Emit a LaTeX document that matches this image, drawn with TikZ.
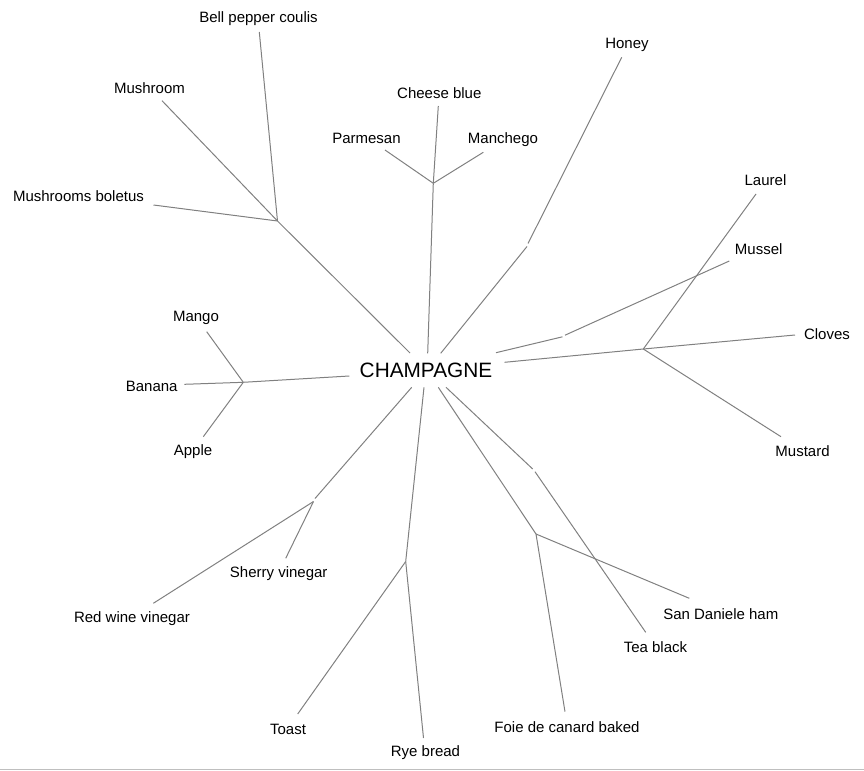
\documentclass[tikz,border=0pt]{standalone}
\usepackage{fontspec}
\setmainfont{Liberation Sans}
\usepackage{tikz}

\begin{document}
\begin{tikzpicture}[x=0.75pt,y=-0.75pt,
	edge/.style={draw=black!50,line width=0.75pt},
	leaf/.style={inner sep=0pt,yshift=-1.1pt,font=\fontsize{11.25}{13}\selectfont},
	root/.style={inner sep=0pt,yshift=-0.5pt,font=\fontsize{15.6}{18}\selectfont}]
	\useasboundingbox (0,0) rectangle (864,771);
	\draw[black!25,line width=1pt] (0,769.5) -- (864,769.5);

	\node[root] (champ) at (426,370) {CHAMPAGNE};
	\node[leaf] (bell) at (258.5,17) {Bell pepper coulis};
	\node[leaf] (mush) at (149.5,87) {Mushroom};
	\node[leaf] (bolet) at (78.5,195) {Mushrooms boletus};
	\node[leaf] (blue) at (439.3,92) {Cheese blue};
	\node[leaf] (parm) at (366.5,136.5) {Parmesan};
	\node[leaf] (manch) at (503,138) {Manchego};
	\node[leaf] (honey) at (627,43.3) {Honey};
	\node[leaf] (laurel) at (765.5,179) {Laurel};
	\node[leaf] (mussel) at (758.7,247.3) {Mussel};
	\node[leaf] (cloves) at (827,332.3) {Cloves};
	\node[leaf] (mustard) at (802.5,450) {Mustard};
	\node[leaf] (mango) at (196,316.7) {Mango};
	\node[leaf] (banana) at (151.7,385) {Banana};
	\node[leaf] (apple) at (193,450) {Apple};
	\node[leaf] (sherry) at (278.7,572.3) {Sherry vinegar};
	\node[leaf] (redwine) at (132,617.3) {Red wine vinegar};
	\node[leaf] (toast) at (288,728.3) {Toast};
	\node[leaf] (rye) at (425.5,751) {Rye bread};
	\node[leaf] (foie) at (567,725.7) {Foie de canard baked};
	\node[leaf] (daniele) at (720.8,612.3) {San Daniele ham};
	\node[leaf] (tea) at (655.5,645.7) {Tea black};

	% inner points of the tree
	\coordinate (j-mush) at (277.5,221);
	\coordinate (j-cheese) at (433.3,183.3);
	\coordinate (j-honey1) at (528,243.5);
	\coordinate (j-honey2) at (527,246.5);
	\coordinate (j-mussel1) at (562.5,336.8);
	\coordinate (j-mussel2) at (565,335.2);
	\coordinate (j-spice) at (643.3,349);
	\coordinate (j-fruit) at (243.3,382.3);
	\coordinate (j-vin1) at (315,498.5);
	\coordinate (j-vin2) at (313.5,501.5);
	\coordinate (j-bread) at (405.7,561.5);
	\coordinate (j-foie) at (536,534);
	\coordinate (j-tea1) at (532.7,469);
	\coordinate (j-tea2) at (535,471.7);

	% ends near the centre word
	\coordinate (c-mush) at (410,353);
	\coordinate (c-cheese) at (427.7,353.3);
	\coordinate (c-honey) at (440.7,353.3);
	\coordinate (c-mussel) at (496,352.7);
	\coordinate (c-spice) at (504.5,362.3);
	\coordinate (c-fruit) at (349.3,376);
	\coordinate (c-vin) at (411.7,387.3);
	\coordinate (c-bread) at (424,387.3);
	\coordinate (c-foie) at (438.3,387.3);
	\coordinate (c-tea) at (446,387.3);

	% ends near the leaves
	\coordinate (e-bell) at (259.3,32);
	\coordinate (e-mush) at (162,100.7);
	\coordinate (e-bolet) at (153.5,205);
	\coordinate (e-blue) at (438.3,106);
	\coordinate (e-parm) at (385,150);
	\coordinate (e-manch) at (483.3,152.3);
	\coordinate (e-honey) at (621.7,57.3);
	\coordinate (e-laurel) at (756,194);
	\coordinate (e-mussel) at (729.3,261);
	\coordinate (e-cloves) at (795,335);
	\coordinate (e-mustard) at (781,436.7);
	\coordinate (e-mango) at (206.7,331.7);
	\coordinate (e-banana) at (184.3,384.3);
	\coordinate (e-apple) at (203.3,436.7);
	\coordinate (e-sherry) at (285.7,558.3);
	\coordinate (e-redwine) at (153.3,603.3);
	\coordinate (e-toast) at (297.7,714);
	\coordinate (e-rye) at (423.5,738);
	\coordinate (e-foie) at (565,711.7);
	\coordinate (e-daniele) at (689.3,598.3);
	\coordinate (e-tea) at (645.7,632.3);

	\draw[edge] (e-bell) -- (j-mush);
	\draw[edge] (e-mush) -- (j-mush);
	\draw[edge] (e-bolet) -- (j-mush);
	\draw[edge] (j-mush) -- (c-mush);
	\draw[edge] (e-blue) -- (j-cheese);
	\draw[edge] (e-parm) -- (j-cheese);
	\draw[edge] (e-manch) -- (j-cheese);
	\draw[edge] (j-cheese) -- (c-cheese);
	\draw[edge] (e-honey) -- (j-honey1);
	\draw[edge] (j-honey2) -- (c-honey);
	\draw[edge] (e-mussel) -- (j-mussel2);
	\draw[edge] (j-mussel1) -- (c-mussel);
	\draw[edge] (e-laurel) -- (j-spice);
	\draw[edge] (e-cloves) -- (j-spice);
	\draw[edge] (e-mustard) -- (j-spice);
	\draw[edge] (j-spice) -- (c-spice);
	\draw[edge] (e-mango) -- (j-fruit);
	\draw[edge] (e-banana) -- (j-fruit);
	\draw[edge] (e-apple) -- (j-fruit);
	\draw[edge] (j-fruit) -- (c-fruit);
	\draw[edge] (c-vin) -- (j-vin1);
	\draw[edge] (j-vin2) -- (e-sherry);
	\draw[edge] (j-vin2) -- (e-redwine);
	\draw[edge] (c-bread) -- (j-bread);
	\draw[edge] (j-bread) -- (e-toast);
	\draw[edge] (j-bread) -- (e-rye);
	\draw[edge] (c-foie) -- (j-foie);
	\draw[edge] (j-foie) -- (e-foie);
	\draw[edge] (j-foie) -- (e-daniele);
	\draw[edge] (c-tea) -- (j-tea1);
	\draw[edge] (j-tea2) -- (e-tea);
\end{tikzpicture}
\end{document}
